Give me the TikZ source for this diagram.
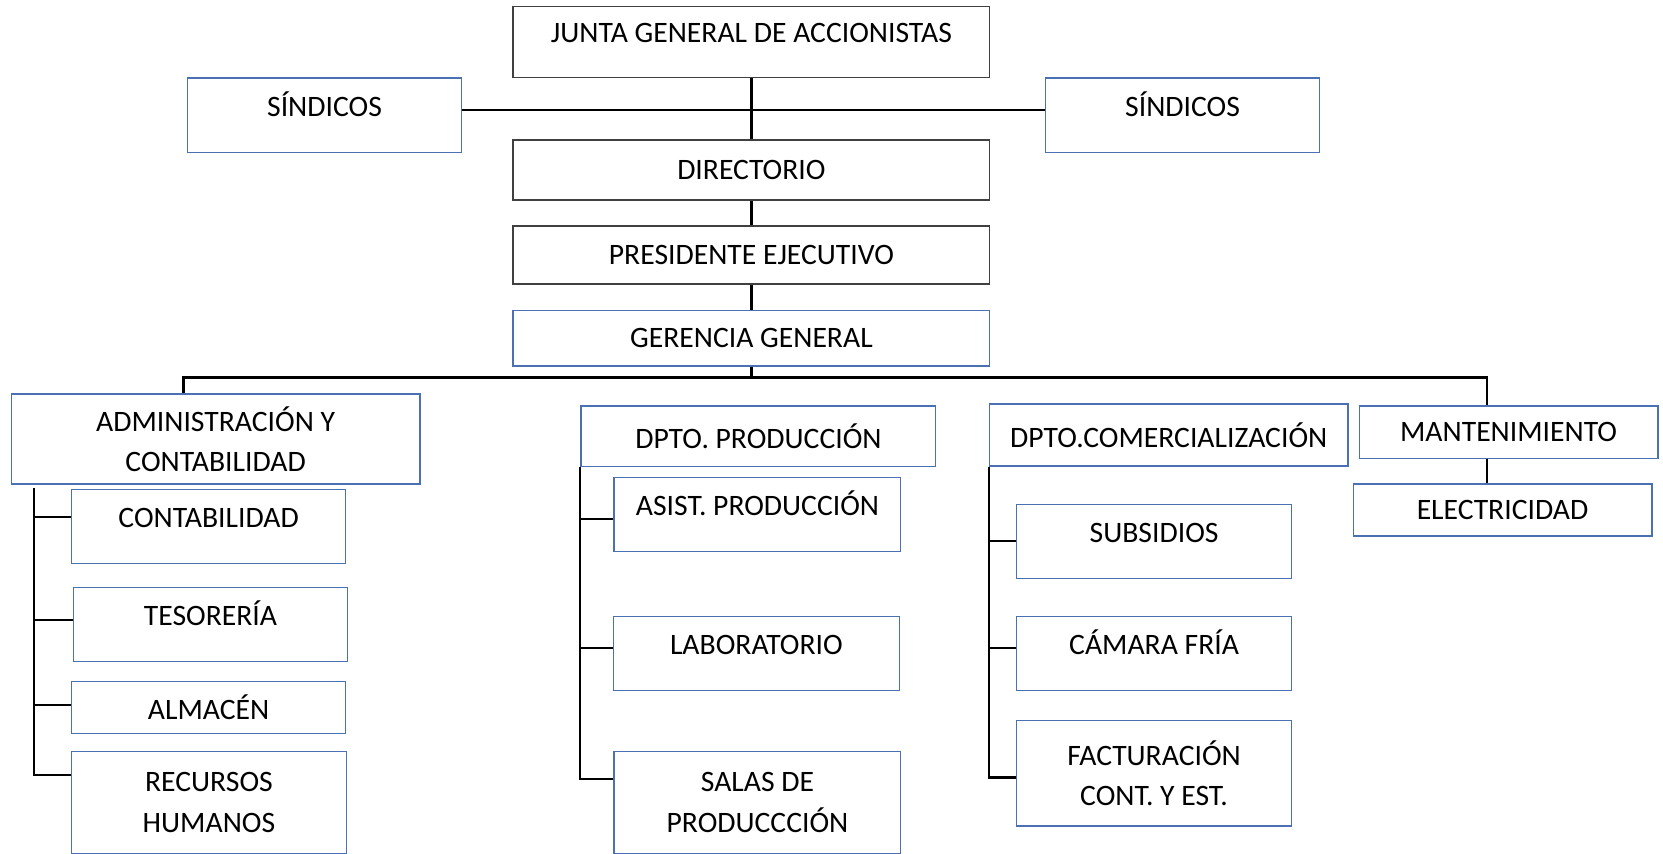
\documentclass[tikz,border=0pt]{standalone}
\usepackage{fontspec}
\setmainfont{Carlito}
\definecolor{boxblue}{RGB}{76,112,180}

\begin{document}
\begin{tikzpicture}[
		x=0.01cm, y=-0.01cm,
		link/.style={
			line width=0.6pt,
			black,
		},
		unit/.style={
			draw=boxblue,
			line width=0.4pt,
			inner sep=0pt,
			align=center,
			font=\fontsize{7.95pt}{10.8pt}\selectfont,
		},
		board/.style={
			unit,
			draw=black!75,
		},
		raised/.style={
			text height=0.18cm,
			text depth=0.16cm,
		},
	]
	\useasboundingbox (0,0) rectangle (1568,805.2);

	% cabeza
	\node [board, raised, minimum width=4.49cm, minimum height=0.67cm] (junta) at (708.5,39.5) {JUNTA GENERAL DE ACCIONISTAS};
	\node [unit, raised, minimum width=2.58cm, minimum height=0.70cm] (sindL) at (306,108.7) {SÍNDICOS};
	\node [unit, raised, minimum width=2.58cm, minimum height=0.70cm] (sindR) at (1115,108.7) {SÍNDICOS};
	\node [board, minimum width=4.49cm, minimum height=0.566cm] (direc) at (708.5,160.3) {DIRECTORIO};
	\node [board, minimum width=4.49cm, minimum height=0.55cm] (pres) at (708.5,240.5) {PRESIDENTE EJECUTIVO};
	\node [unit, minimum width=4.49cm, minimum height=0.52cm] (geren) at (708.5,319) {GERENCIA GENERAL};

	% areas
	\node [unit, minimum width=3.85cm, minimum height=0.85cm] (admin) at (203.3,413.9) {ADMINISTRACIÓN Y\\CONTABILIDAD};
	\node [unit, minimum width=3.342cm, minimum height=0.57cm] (dprod) at (715.1,411.3) {DPTO. PRODUCCIÓN};
	\node [unit, minimum width=3.38cm, minimum height=0.585cm] (dcom) at (1102,410.2) {DPTO.COMERCIALIZACIÓN};
	\node [unit, minimum width=2.813cm, minimum height=0.493cm] (mant) at (1422.4,407.5) {MANTENIMIENTO};

	% administracion
	\node [unit, raised, minimum width=2.583cm, minimum height=0.698cm] (conta) at (196.7,496.3) {CONTABILIDAD};
	\node [unit, raised, minimum width=2.583cm, minimum height=0.698cm] (teso) at (198.5,588.7) {TESORERÍA};
	\node [unit, minimum width=2.583cm, minimum height=0.49cm] (alma) at (196.7,666.9) {ALMACÉN};
	\node [unit, minimum width=2.59cm, minimum height=0.96cm] (rrhh) at (197,756.7) {RECURSOS\\HUMANOS};

	% produccion
	\node [unit, raised, minimum width=2.70cm, minimum height=0.698cm] (asist) at (714.2,485.3) {ASIST. PRODUCCIÓN};
	\node [unit, raised, minimum width=2.697cm, minimum height=0.698cm] (lab) at (713.2,616) {LABORATORIO};
	\node [unit, minimum width=2.70cm, minimum height=0.96cm] (salas) at (714.2,756.7) {SALAS DE\\PRODUCCCIÓN};

	% comercializacion
	\node [unit, raised, minimum width=2.59cm, minimum height=0.698cm] (subs) at (1088.2,510.4) {SUBSIDIOS};
	\node [unit, raised, minimum width=2.59cm, minimum height=0.698cm] (cam) at (1088.2,616) {CÁMARA FRÍA};
	\node [unit, minimum width=2.59cm, minimum height=0.996cm] (fact) at (1088.2,729) {FACTURACIÓN\\CONT. Y EST.};

	% mantenimiento
	\node [unit, minimum width=2.813cm, minimum height=0.491cm] (elec) at (1416.7,480.9) {ELECTRICIDAD};

	\coordinate (busL) at (173,356);
	\coordinate (busR) at (1402,356);

	\draw [link] (junta) -- (direc);
	\draw [link] ([yshift=0.05cm]sindL.east) -- ([yshift=0.05cm]sindR.west);
	\draw [link] (direc) -- (pres);
	\draw [link] (pres) -- (geren);
	\draw [link] (geren.south) -- (geren.south |- busL);
	\draw [link] (busL |- admin.north) -- (busL) -- (busR) -- (busR |- mant.north);
	\draw [link] (busR |- mant.south) -- (busR |- elec.north);

	\foreach \n/\d in {conta/0.085, teso/0.04, alma/0.02, rrhh/0.26}
		\draw [link] ([yshift=\d cm]\n.west) -| ([xshift=0.22cm, yshift=-0.03cm]admin.south west);
	\foreach \n/\d in {asist/-0.044, lab/0.053, salas/0.22}
		\draw [link] ([yshift=\d cm]\n.west) -| (dprod.south west);
	\foreach \n/\d in {subs/0, cam/0.053, fact/-0.042}
		\draw [link] ([yshift=\d cm]\n.west) -| (dcom.south west);

\end{tikzpicture}
\end{document}
